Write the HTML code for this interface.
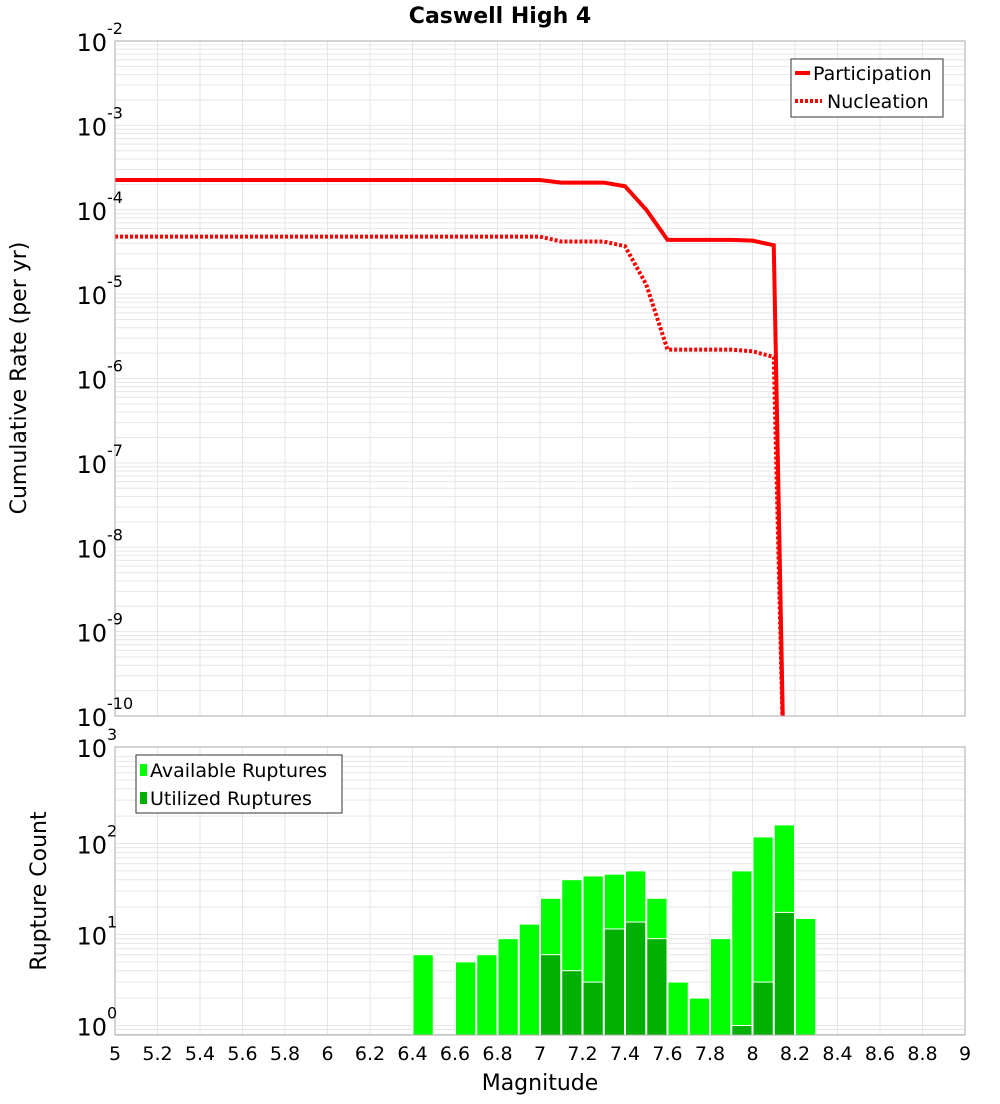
<!DOCTYPE html>
<html><head><meta charset="utf-8"><style>
body{margin:0;background:#fff;font-family:"DejaVu Sans","Liberation Sans",sans-serif}
svg text{font-family:"DejaVu Sans","Liberation Sans",sans-serif}
</style></head><body>
<svg id="c" width="1000" height="1100" xmlns="http://www.w3.org/2000/svg">
<text x="500" y="23" text-anchor="middle" font-size="22" font-weight="bold">Caswell High 4</text>
<g id="topPlot"></g>
<g id="botPlot"></g>
<text transform="translate(26,378) rotate(-90)" text-anchor="middle" font-size="22">Cumulative Rate (per yr)</text>
<text transform="translate(46,891) rotate(-90)" text-anchor="middle" font-size="22">Rupture Count</text>
<text x="540" y="1090" text-anchor="middle" font-size="22">Magnitude</text>
<g>
<rect x="791" y="59" width="152" height="58" fill="#fff" stroke="#333"/>
<line x1="795" y1="73" x2="810" y2="73" stroke="red" stroke-width="4"/>
<text x="813" y="80" font-size="19">Participation</text>
<line x1="795" y1="101" x2="822" y2="101" stroke="red" stroke-width="4" stroke-dasharray="3,2"/>
<text x="827" y="108" font-size="19">Nucleation</text>
</g>
<g>
<rect x="136" y="755" width="206" height="58" fill="#fff" stroke="#333"/>
<rect x="140" y="764" width="7" height="12" fill="#00ff00"/>
<text x="150" y="777" font-size="19">Available Ruptures</text>
<rect x="140" y="792" width="7" height="12" fill="#00b000"/>
<text x="150" y="805" font-size="19">Utilized Ruptures</text>
</g>
</svg>
<script>
const mags=[5.0,7.0,7.1,7.3,7.4,7.5,7.6,7.9,8.0,8.1,8.15];
const participation=[2.25e-4,2.25e-4,2.1e-4,2.1e-4,1.9e-4,1.0e-4,4.4e-5,4.4e-5,4.3e-5,3.8e-5,1e-11];
const nucleation=[4.8e-5,4.8e-5,4.2e-5,4.2e-5,3.7e-5,1.3e-5,2.2e-6,2.2e-6,2.1e-6,1.8e-6,1e-11];
const binMags=[6.4,6.6,6.7,6.8,6.9,7.0,7.1,7.2,7.3,7.4,7.5,7.6,7.7,7.8,7.9,8.0,8.1,8.2];
const available=[6,5,6,9,13,25,40,44,46,50,25,3,2,9,50,118,160,15];
const utilized=[0,0,0,0,0,6,4,3,11.5,13.7,9,0,0,0,1,3,17.5,0];
const xTicks=[5,5.2,5.4,5.6,5.8,6,6.2,6.4,6.6,6.8,7,7.2,7.4,7.6,7.8,8,8.2,8.4,8.6,8.8,9];
const rateExps=[-2,-3,-4,-5,-6,-7,-8,-9,-10];
const countExps=[3,2,1,0];

const NS="http://www.w3.org/2000/svg";
const L=115,R=965;
const X=m=>L+(m-5)*(R-L)/4;
const T0=41,T1=716;
const Yt=v=>T0+(-2-Math.log10(v))*(T1-T0)/8;
const B0=747,B1=1035;
const Yb=v=>1025.5-Math.log10(v)*91;
function mk(p,t,a){const e=document.createElementNS(NS,t);for(const k in a)e.setAttribute(k,a[k]);p.appendChild(e);return e;}
const topG=document.getElementById('topPlot'),botG=document.getElementById('botPlot');
function grid(g,y0,y1,lines){
  mk(g,'rect',{x:L,y:y0,width:R-L,height:y1-y0,fill:'#fff'});
  xTicks.forEach(m=>mk(g,'line',{x1:X(m),x2:X(m),y1:y0,y2:y1,stroke:'#e6e6e6','stroke-width':1}));
  lines.forEach(y=>{if(y>=y0&&y<=y1)mk(g,'line',{x1:L,x2:R,y1:y,y2:y,stroke:'#e6e6e6','stroke-width':1});});
}
let tl=[];for(let e=-10;e<-2;e++)for(let k=1;k<10;k++)tl.push(Yt(k*Math.pow(10,e)));
grid(topG,T0,T1,tl);
let bl=[];for(let e=-1;e<3;e++)for(let k=1;k<10;k++)bl.push(Yb(k*Math.pow(10,e)));
grid(botG,B0,B1,bl);
const svgEl=document.getElementById('c');
const cl=document.createElementNS(NS,'clipPath');cl.setAttribute('id','bc');svgEl.appendChild(cl);
mk(cl,'rect',{x:L,y:B0,width:R-L,height:B1-B0});
const bg=mk(botG,'g',{'clip-path':'url(#bc)'});
binMags.forEach((m,i)=>{
  const y=Yb(available[i]);
  const r=mk(bg,'rect',{x:X(m)+0.5,y:y,width:X(m+0.1)-X(m)-1,height:B1-y,fill:'#00ff00',stroke:'#fff','stroke-width':1});
  
  
  if(utilized[i]>0){const y2=Yb(utilized[i]);
  const u=mk(bg,'rect',{x:X(m)+0.5,y:y2,width:X(m+0.1)-X(m)-1,height:B1-y2,fill:'#00b000',stroke:'#fff','stroke-width':1});
  
  }
});
const cl2=document.createElementNS(NS,'clipPath');cl2.setAttribute('id','tc');svgEl.appendChild(cl2);
mk(cl2,'rect',{x:L,y:T0,width:R-L,height:T1-T0});
function drawLine(vals,dash,name){
  const p=mk(topG,'polyline',{points:mags.map((m,i)=>X(m)+','+Yt(vals[i])).join(' '),fill:'none',stroke:'red','stroke-width':4,'stroke-dasharray':dash,'clip-path':'url(#tc)'});
  
  
}
drawLine(nucleation,'3,2','nucleation-line');
drawLine(participation,'none','participation-line');
mk(topG,'rect',{x:L,y:T0,width:R-L,height:T1-T0,fill:'none',stroke:'#aaa'});
mk(botG,'rect',{x:L,y:B0,width:R-L,height:B1-B0,fill:'none',stroke:'#aaa'});
function ylab(g,y,e){
  const t=mk(g,'text',{x:107,y:y+10,'text-anchor':'end','font-size':24});
  
  
  t.textContent='10';
  const s=mk(g,'text',{x:107,y:y-7,'font-size':16});
  
  
  s.textContent=String(e);
}
rateExps.forEach(e=>ylab(topG,Yt(Math.pow(10,e)),e));
countExps.forEach(e=>ylab(botG,e==3?B0:Yb(Math.pow(10,e)),e));
xTicks.forEach(m=>{
  const t=mk(botG,'text',{x:X(m),y:1060,'text-anchor':'middle','font-size':19});
  
  
  t.textContent=String(m);
});
</script>
</body></html>
